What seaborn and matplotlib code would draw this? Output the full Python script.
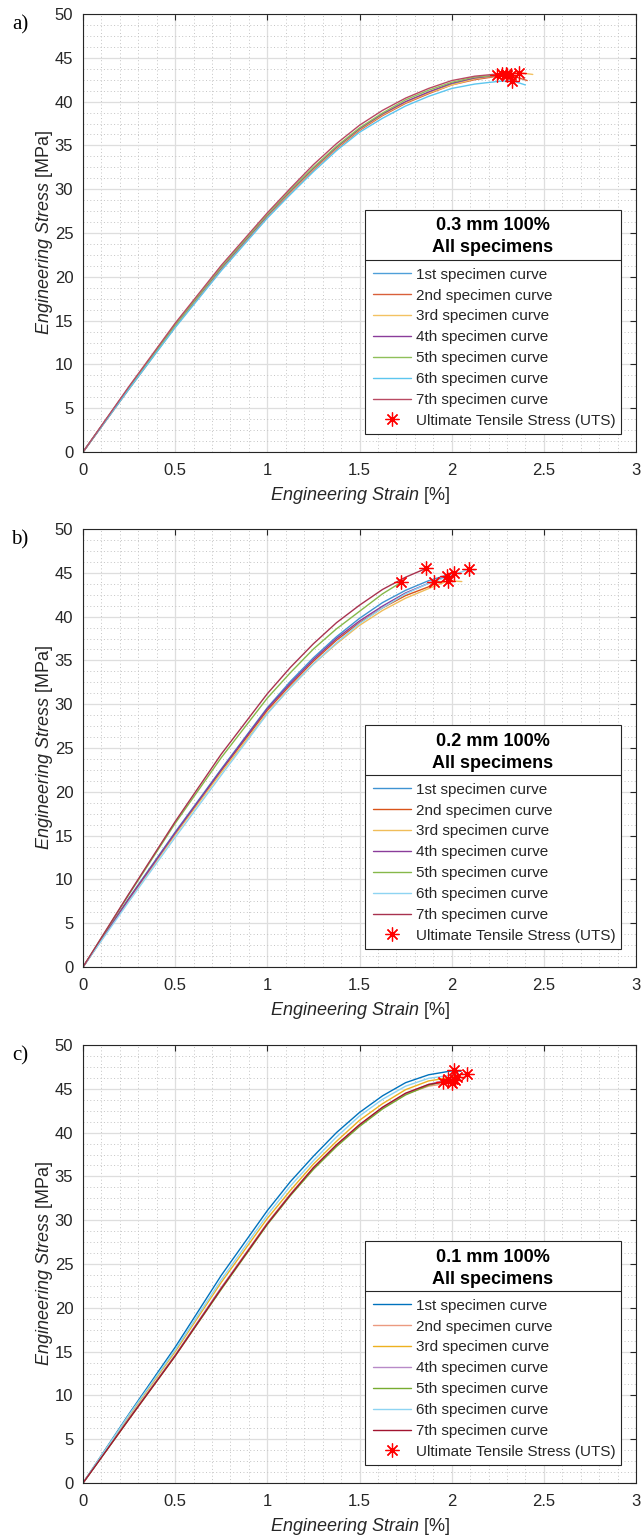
import matplotlib
matplotlib.use('Agg')
import matplotlib.pyplot as plt
from matplotlib.lines import Line2D
from matplotlib.patches import Rectangle
from matplotlib.ticker import MultipleLocator
import seaborn as sns

# ---- data (strain in %, stress in MPa) ----
strain_grid = [0, 0.25, 0.5, 0.75, 1.0, 1.125, 1.25, 1.375, 1.5, 1.625, 1.75,
               1.875, 2.0, 2.125, 2.25]

specimen_labels = ['1st specimen curve', '2nd specimen curve', '3rd specimen curve',
                   '4th specimen curve', '5th specimen curve', '6th specimen curve',
                   '7th specimen curve']
uts_label = 'Ultimate Tensile Stress (UTS)'
panel_letters = ['a)', 'b)', 'c)']
panel_titles = ['0.3 mm 100%', '0.2 mm 100%', '0.1 mm 100%']
x_ticks = [0, 0.5, 1, 1.5, 2, 2.5, 3]
x_tick_labels = ['0', '0.5', '1', '1.5', '2', '2.5', '3']
y_ticks = [0, 5, 10, 15, 20, 25, 30, 35, 40, 45, 50]

# 0.3 mm
a_stress = [
    [0, 7.3, 14.4, 20.9, 26.9, 29.7, 32.3, 34.7, 36.8, 38.5, 39.9, 41.0, 42.0, 42.6, 43.0],
    [0, 7.2, 14.3, 20.8, 26.8, 29.6, 32.2, 34.6, 36.7, 38.4, 39.8, 40.9, 41.9, 42.5, 42.9],
    [0, 7.3, 14.4, 20.9, 26.9, 29.7, 32.3, 34.7, 36.8, 38.5, 39.9, 41.0, 41.9, 42.6, 43.0],
    [0, 7.4, 14.5, 21.0, 27.0, 29.8, 32.4, 34.8, 36.9, 38.6, 40.0, 41.1, 42.1, 42.7, 43.0],
    [0, 7.4, 14.5, 21.1, 27.1, 29.9, 32.5, 34.9, 37.0, 38.7, 40.2, 41.3, 42.2, 42.8],
    [0, 7.2, 14.2, 20.7, 26.7, 29.4, 32.0, 34.4, 36.5, 38.1, 39.5, 40.6, 41.5, 42.0, 42.3],
    [0, 7.5, 14.7, 21.3, 27.3, 30.1, 32.8, 35.2, 37.3, 39.0, 40.4, 41.5, 42.4, 42.9],
]
a_uts_strain = [2.295, 2.321, 2.367, 2.30, 2.245, 2.326, 2.272]
a_uts_stress = [43.2, 43.0, 43.3, 43.05, 43.0, 42.4, 43.2]
a_end_strain = [2.32, 2.41, 2.44, 2.32, 2.26, 2.40, 2.29]
a_end_stress = [43.1, 42.4, 43.1, 43.0, 42.95, 41.9, 43.15]
a_colors = ['#4f9fd9', '#d9603a', '#f3c262', '#8a3c9a', '#8fc05a', '#5cc6ef', '#b94a63']

# 0.2 mm
b_stress = [
    [0, 7.9, 15.4, 22.6, 29.6, 32.6, 35.3, 37.7, 39.8, 41.6, 43.0, 44.1, 44.9],
    [0, 7.8, 15.2, 22.4, 29.3, 32.2, 34.9, 37.3, 39.3, 41.0, 42.4, 43.4],
    [0, 7.7, 15.1, 22.2, 29.0, 31.9, 34.6, 36.9, 39.0, 40.7, 42.1, 43.2],
    [0, 7.8, 15.3, 22.5, 29.5, 32.4, 35.1, 37.5, 39.5, 41.2, 42.7, 43.8],
    [0, 8.3, 16.4, 23.9, 30.7, 33.6, 36.3, 38.6, 40.6, 42.6],
    [0, 7.5, 14.8, 21.9, 28.9, 31.9, 34.6, 37.0, 39.2, 41.0, 42.6, 43.8, 44.7],
    [0, 8.4, 16.6, 24.3, 31.2, 34.2, 36.9, 39.3, 41.3, 43.1, 44.5],
]
b_uts_strain = [2.01, 1.906, 1.982, 1.973, 1.725, 2.094, 1.861]
b_uts_stress = [45.0, 44.0, 44.1, 44.6, 43.9, 45.4, 45.5]
b_end_strain = [2.03, 1.95, 2.055, 1.99, 1.74, 2.127, 1.875]
b_end_stress = [44.95, 43.95, 44.0, 44.55, 43.85, 45.3, 45.45]
b_colors = ['#3f93d2', '#d95319', '#f0bd5a', '#8a3c9a', '#86b84a', '#8ed4f2', '#a8324f']

# 0.1 mm
c_stress = [
    [0, 7.9, 15.5, 23.7, 31.1, 34.4, 37.3, 40.0, 42.3, 44.2, 45.7, 46.6],
    [0, 7.4, 14.6, 22.3, 29.7, 33.0, 36.0, 38.6, 40.9, 42.8, 44.4, 45.3],
    [0, 7.7, 15.0, 22.9, 30.2, 33.4, 36.4, 39.0, 41.4, 43.3, 44.9, 45.9],
    [0, 7.4, 14.6, 22.3, 29.6, 32.9, 35.9, 38.5, 40.8, 42.8, 44.4, 45.5],
    [0, 7.3, 14.5, 22.1, 29.5, 32.8, 35.8, 38.4, 40.7, 42.7, 44.3, 45.4],
    [0, 7.8, 15.2, 23.2, 30.6, 33.9, 36.8, 39.5, 41.9, 43.8, 45.3, 46.2, 46.55],
    [0, 7.3, 14.5, 22.2, 29.6, 32.9, 36.0, 38.6, 40.9, 42.9, 44.5, 45.5],
]
c_uts_strain = [2.015, 2.0, 2.028, 1.982, 1.952, 2.082, 2.018]
c_uts_stress = [47.1, 45.7, 46.4, 46.1, 45.8, 46.7, 46.0]
c_end_strain = [2.05, 2.02, 2.05, 2.0, 1.97, 2.09, 2.03]
c_end_stress = [47.0, 45.65, 46.35, 46.05, 45.75, 46.65, 45.95]
c_colors = ['#0072bd', '#eb9a80', '#edb120', '#b88ac8', '#77ac30', '#8ed4f2', '#a2142f']

sns.set_theme(style='white')
plt.rcParams['font.family'] = ['Liberation Sans', 'DejaVu Sans']
plt.rcParams['mathtext.fontset'] = 'custom'
plt.rcParams['mathtext.rm'] = 'Liberation Sans'
plt.rcParams['mathtext.it'] = 'Liberation Sans:italic'

ink = '#262626'
fig = plt.figure(figsize=(6.44, 15.38), dpi=100)
W, H = 644, 1538
ax_left, ax_right = 83, 636
ax_tops = [14, 529, 1045]
ax_h = 438

panels = [
    (a_stress, a_uts_strain, a_uts_stress, a_end_strain, a_end_stress, a_colors),
    (b_stress, b_uts_strain, b_uts_stress, b_end_strain, b_end_stress, b_colors),
    (c_stress, c_uts_strain, c_uts_stress, c_end_strain, c_end_stress, c_colors),
]

for i, (stress, uts_x, uts_y, end_x, end_y, colors) in enumerate(panels):
    top = ax_tops[i]
    ax = fig.add_axes([ax_left / W, (H - top - ax_h) / H, (ax_right - ax_left) / W, ax_h / H])

    for k in range(7):
        xs = strain_grid[:len(stress[k])] + [uts_x[k], end_x[k]]
        ys = stress[k] + [uts_y[k], end_y[k]]
        sns.lineplot(x=xs, y=ys, sort=False, estimator=None, color=colors[k],
                     lw=1.0, ax=ax, zorder=2)
    ax.plot(uts_x, uts_y, linestyle='none', marker=(8, 2, 0), markersize=10,
            markeredgecolor='red', markeredgewidth=0.9, zorder=3)

    ax.set_xlim(0, 3)
    ax.set_ylim(0, 50)
    ax.set_xticks(x_ticks)
    ax.set_xticklabels(x_tick_labels)
    ax.set_yticks(y_ticks)
    ax.xaxis.set_minor_locator(MultipleLocator(0.1))
    ax.yaxis.set_minor_locator(MultipleLocator(1.25))
    ax.set_axisbelow(True)
    ax.grid(which='major', color='#dedede', lw=0.9, ls='-')
    ax.grid(which='minor', color='#c4c4c4', lw=0.7, ls=(0, (1, 2.5)))
    ax.tick_params(which='major', direction='in', length=4, width=0.8, color=ink,
                   top=True, right=True, labelsize=12, labelcolor=ink)
    ax.tick_params(axis='x', which='major', pad=8)
    ax.tick_params(axis='y', which='major', pad=7)
    ax.tick_params(which='minor', length=0)
    for s in ax.spines.values():
        s.set_color(ink)
        s.set_linewidth(0.8)

    ax.set_xlabel(r'$\mathit{Engineering\ Strain}$ [%]', fontsize=13, color=ink, labelpad=5)
    ax.set_ylabel(r'$\mathit{Engineering\ Stress}$ [MPa]', fontsize=13, color=ink, labelpad=0)

    # legend: framed box with bold title block and separator line
    lx0, lx1 = (365 - ax_left) / 553, (621 - ax_left) / 553
    ly0, lsep, ly1 = 18 / ax_h, (452 - 260) / ax_h, (452 - 210) / ax_h
    ax.add_patch(Rectangle((lx0, ly0), lx1 - lx0, ly1 - ly0, transform=ax.transAxes,
                           facecolor='white', edgecolor=ink, lw=0.8, zorder=4))
    ax.plot([lx0, lx1], [lsep, lsep], transform=ax.transAxes, color=ink, lw=0.8, zorder=4.5)
    xc = (lx0 + lx1) / 2
    ax.text(xc, (452 - 226) / ax_h, panel_titles[i], transform=ax.transAxes, ha='center',
            va='center', fontsize=13, fontweight='bold', color='black', zorder=5)
    ax.text(xc, (452 - 248) / ax_h, 'All specimens', transform=ax.transAxes, ha='center',
            va='center', fontsize=13, fontweight='bold', color='black', zorder=5)

    handles = [Line2D([], [], color=colors[k], lw=1.0) for k in range(7)]
    handles.append(Line2D([], [], linestyle='none', marker=(8, 2, 0), markersize=10,
                          markeredgecolor='red', markeredgewidth=0.9))
    leg = ax.legend(handles, specimen_labels + [uts_label], loc='upper left',
                    bbox_to_anchor=(lx0, lsep), frameon=False, fontsize=11,
                    handlelength=2.5, handletextpad=0.33, labelspacing=0.45,
                    borderpad=0.5, borderaxespad=0)
    leg.set_zorder(6)
    for t in leg.get_texts():
        t.set_color(ink)

    fig.text(20 / W, 1 - (top + 11) / H, panel_letters[i], ha='center', va='center',
             fontsize=15, family='Liberation Serif', color='black')

fig.savefig('out.png', dpi=100)
